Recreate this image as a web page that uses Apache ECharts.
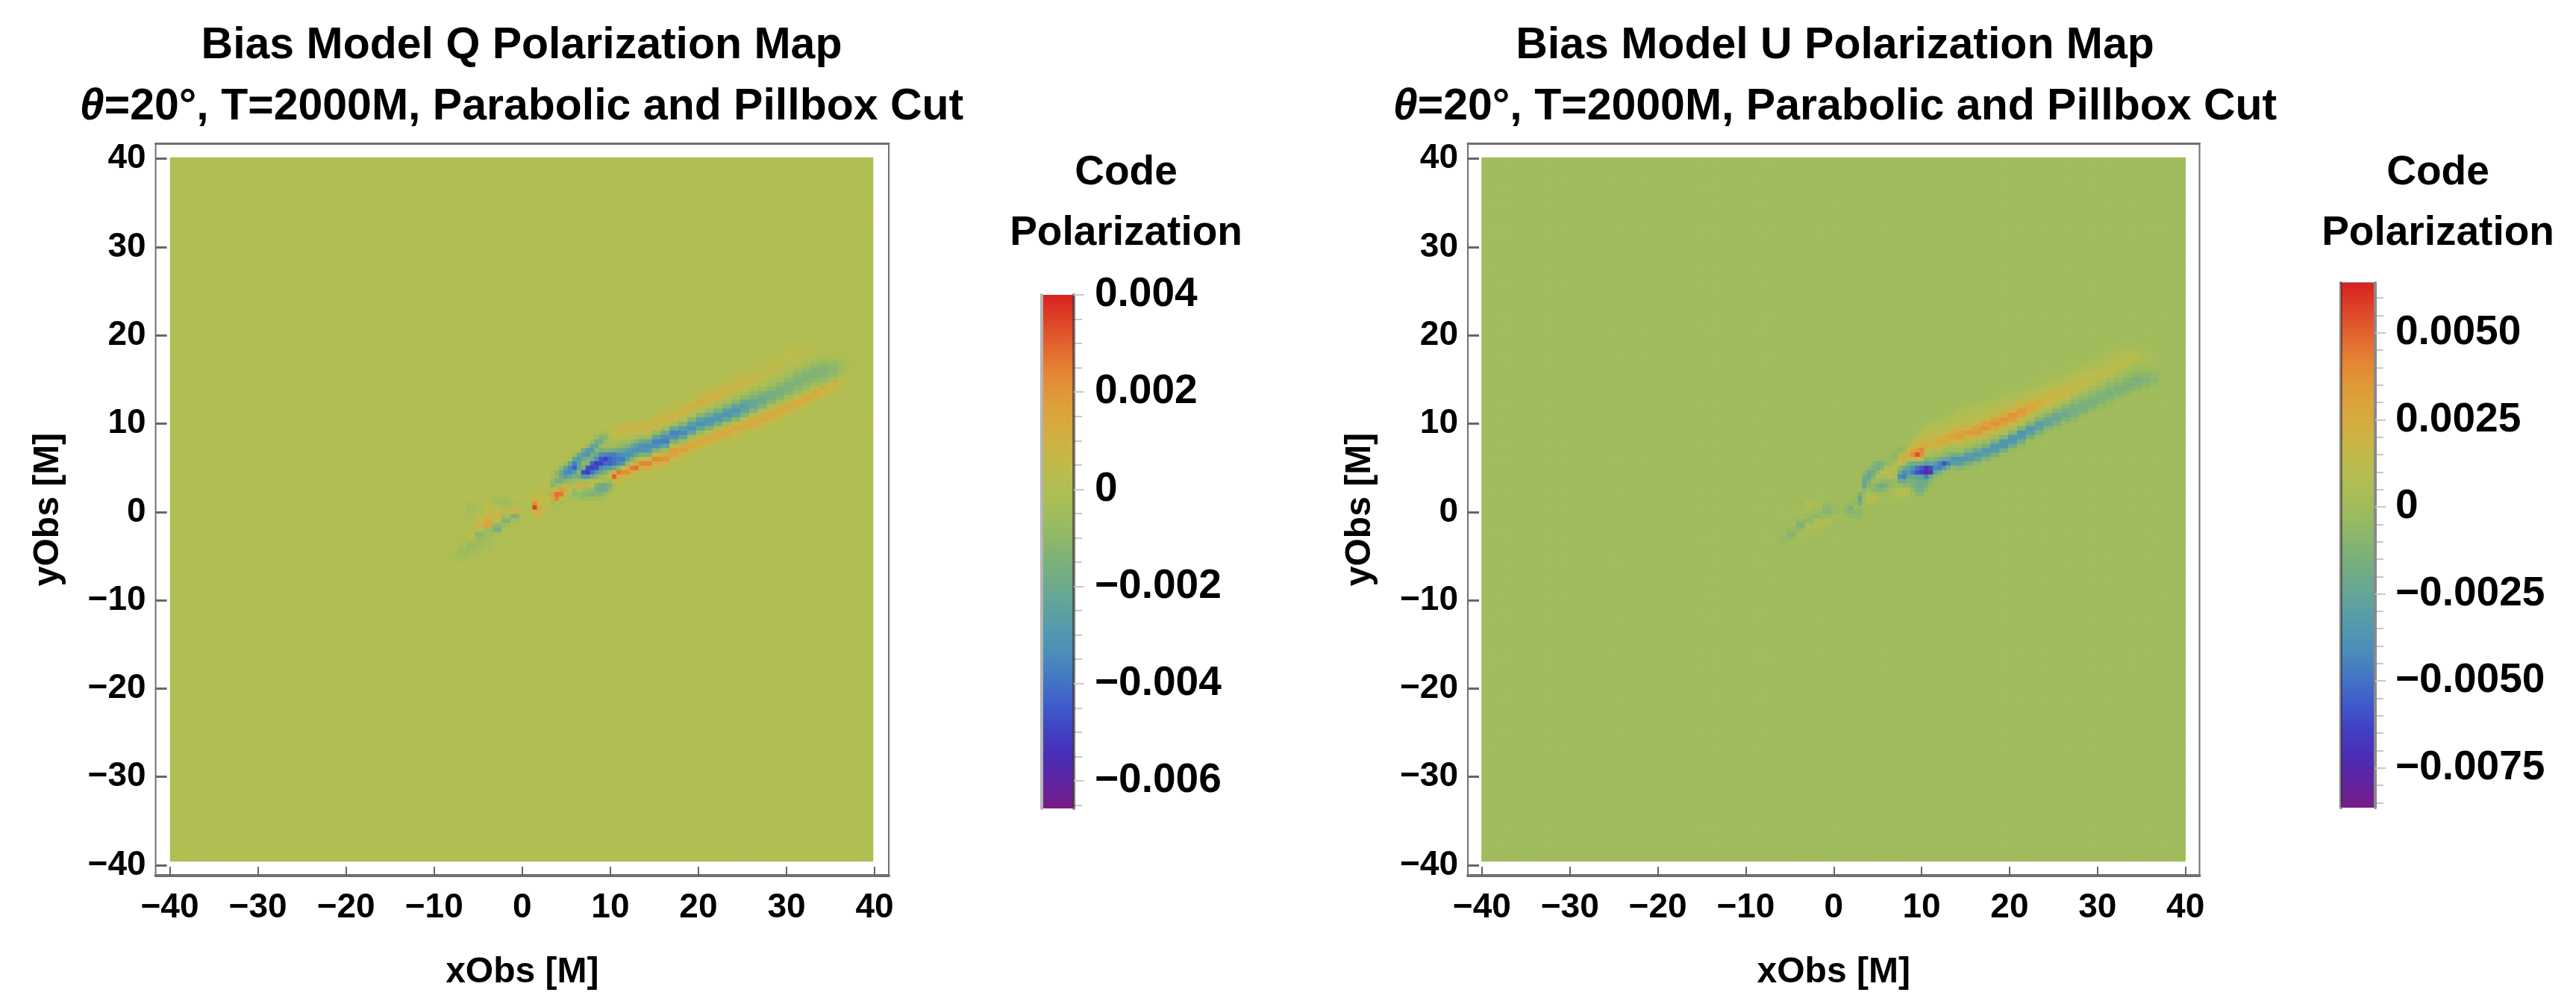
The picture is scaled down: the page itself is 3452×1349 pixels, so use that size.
<!DOCTYPE html>
<html><head><meta charset="utf-8">
<style>html,body{margin:0;padding:0;background:#fff}#c{width:3452px;height:1349px}</style>
<script src="https://cdn.jsdelivr.net/npm/echarts@6/dist/echarts.min.js"></script>
</head><body><div id="c"></div>
<script>
const axisTicks=[-40,-30,-20,-10,0,10,20,30,40];
const qBarTicks=[0.004,0.002,0,-0.002,-0.004,-0.006];
const qBarMinor=[0.0035,0.003,0.0025,0.0015,0.001,0.0005,-0.0005,-0.001,-0.0015,-0.0025,-0.003,-0.0035,-0.0045,-0.005,-0.0055,-0.0065];
const uBarTicks=[0.005,0.0025,0,-0.0025,-0.005,-0.0075];
const uBarMinor=[0.006,0.0055,0.0045,0.004,0.0035,0.003,0.002,0.0015,0.001,0.0005,-0.0005,-0.001,-0.0015,-0.002,-0.003,-0.0035,-0.004,-0.0045,-0.0055,-0.006,-0.0065,-0.007,-0.008,-0.0085];
const qRange=[-0.00657,0.004];
const uRange=[-0.00864,0.00643];
const rainbow=['#781C86','#5F24A0','#4A2DB6','#4140C4','#3F5CCA','#4475C4','#4B8DBA','#549AAD','#62A49A','#72AC85','#84B372','#98BB61','#A9BE56','#B9BD4E','#CBB444','#D7A93E','#DF9A38','#E48534','#E2652E','#DE4428','#DA2120'];
// columns of cell values, unit 1e-4: [x, y of first cell, values going down in 0.5 steps]
const qCoarse=[
[-8,-4.5,[-1,-3,-2]],
[-7,-3,[-2,-2,-3,-6,-5,-3]],
[-6,1,[-3,-4,-3,-2,-1,0,2,3,2,-5,-8,-5,-3]],
[-5,1,[-1,-2,-1,2,5,8,2,-10,-8,-5,-5,-3]],
[-4,1.5,[1,2,3,4,8,14,16,-6,-5,-4,-3,-2]],
[-3,1.5,[-2,-4,2,6,8,3,-10,-16,-3,-2]],
[-2,1.5,[-3,-5,-3,5,-4,-14,-6,-2]],
[-1,1,[-2,3,7,-14,-4,-1]],
[14,11,[1,3,6,8,4,-6,-22,-33,-30,-14,5,24,12,3,1]],
[15,11.5,[1,3,6,8,4,-8,-24,-36,-32,-14,6,22,13,4,1]],
[16,12,[1,3,6,8,5,-6,-20,-33,-37,-24,-5,14,20,10,3,1]],
[17,12.5,[1,3,6,9,6,-4,-20,-36,-32,-14,4,17,16,7,2]],
[18,13,[1,2,5,9,7,-1,-12,-28,-35,-24,-6,10,16,9,3,1]],
[19,13.5,[1,2,5,10,7,-1,-12,-27,-33,-24,-6,10,14,9,3,1]],
[20,14,[1,3,6,11,7,-1,-12,-26,-32,-24,-7,8,14,9,3,1]],
[21,14.5,[1,3,6,10,7,0,-8,-20,-31,-28,-13,3,13,10,4,1]],
[22,15,[1,2,5,9,8,1,-6,-16,-29,-29,-17,-1,13,12,5,2,1]],
[23,15.5,[1,2,5,8,8,2,-5,-14,-27,-31,-22,-6,11,14,7,2,1]],
[24,16,[1,2,4,7,8,3,-3,-12,-25,-30,-25,-10,7,14,9,3,1]],
[25,16.5,[1,2,4,6,7,3,-3,-10,-21,-27,-24,-12,3,13,11,4,1]],
[26,17,[1,2,3,5,6,3,-2,-8,-16,-22,-21,-13,0,11,14,6,2,1]],
[27,17.5,[1,2,3,4,5,3,-1,-6,-13,-19,-19,-13,-2,10,14,7,2,1]],
[28,18,[1,2,3,4,5,3,-1,-5,-11,-17,-17,-12,-2,9,14,8,3,1]],
[29,18.5,[1,2,3,4,4,2,-1,-5,-11,-16,-16,-12,-3,7,13,9,3,1]],
[30,19,[1,2,3,3,3,2,-1,-5,-10,-15,-15,-12,-4,6,13,10,4,1]],
[31,19,[2,3,3,3,1,-2,-6,-11,-14,-14,-11,-5,5,13,10,4,1]],
[32,19.5,[1,2,3,3,1,-2,-6,-11,-13,-13,-10,-5,4,13,10,4,1]],
[33,19.5,[1,2,2,1,-2,-6,-10,-13,-13,-10,-5,3,13,9,3,1]],
[34,19,[1,1,0,-3,-8,-12,-14,-12,-8,-2,11,8,3,1]],
[35,18,[0,-2,-7,-10,-11,-8,-3,9,7,3,1]],
[36,18,[-1,-2,-4,-5,-4,-2,5,3,1]],
[37,17.5,[-1,-1,-2,-1,2,2,1]]
];
const qFine=[
[1.5,2,[3,8,22,35,10,4]],
[2,2,[6,8,10,12,10,6]],
[2.5,3,[2,3,3,5,4,3,4,2]],
[3,3.5,[3,2,3,-4,3,4,4,2]],
[3.5,4,[-4,-8,-12,4,16,12,-6,3]],
[4,4.5,[-10,-8,-18,-6,10,28,24,2,-3]],
[4.5,5,[-10,-22,-20,-16,-4,18,26,8,-4,0]],
[5,5.5,[-8,-26,-34,-28,-10,0,14,6,3,-2]],
[5.5,6,[-4,-22,-36,-36,-22,-8,-2,3,-3,-6,0]],
[6,6.5,[-6,-24,-38,-44,-26,-16,-6,2,-5,-10,-3]],
[6.5,6.5,[-20,-30,-26,-24,-14,-18,-4,10,-2,-8,-4]],
[7,7,[-18,-28,-22,-10,-16,-48,-30,-4,12,-6,-10,-8]],
[7.5,7.5,[-8,-28,-32,-14,-14,-48,-52,-30,-4,4,-8,-12,-6]],
[8,8,[-6,-22,-28,-18,-18,-44,-50,-40,-20,3,2,-10,-14,-6]],
[8.5,8.5,[-6,-18,-22,-12,-22,-34,-52,-48,-30,-12,4,-14,-18,-12,-3]],
[9,9,[-3,-14,-18,-8,-16,-34,-46,-50,-34,-22,-6,2,-20,-20,-14,-3]],
[9.5,9,[-4,-12,-8,-6,-14,-36,-50,-42,-30,-14,-2,-6,-20,-18,-8]],
[10,9.5,[2,0,-3,-4,-6,-16,-38,-44,-44,-28,-6,6,-6,-14,-10,-2]],
[10.5,9.5,[4,4,3,-2,-6,-18,-38,-40,-40,-20,14,30,6,-4,-2]],
[11,10,[2,5,6,3,-3,-8,-20,-34,-38,-34,-10,26,10,6,3]],
[11.5,10,[4,7,5,2,-4,-10,-22,-32,-38,-30,2,22,10,4]],
[12,10,[5,8,6,0,-6,-14,-28,-34,-26,-8,12,22,6,1]],
[12.5,10,[6,7,3,-1,-8,-22,-30,-30,-14,4,26,12,3]],
[13,10,[4,8,4,-3,-12,-28,-32,-22,-5,14,28,8,2]],
[13.5,10.5,[2,5,8,3,-6,-20,-32,-30,-14,2,22,12,3,1]]
];
const uCoarse=[
[-7,-4,[-2,-1]],
[-6,0,[1,1,0,0,0,0,-4,-4,-2]],
[-5,-2,[-3,-10,-6]],
[-4,0,[2,2,-6,-12,-6,3,2]],
[-3,1,[6,5,2,-4,-7,2,5,3]],
[-2,1,[3,2,-4,-7,6,6,3]],
[-1,1,[-3,-8,-10,-4,8,3]],
[0,0.5,[-3,-4,1]],
[14,11.5,[4,8,10,13,19,28,31,18,6,-2,-16,-36,-30,-10,-2]],
[15,12,[3,7,9,11,14,21,33,24,10,2,-10,-30,-34,-16,-3]],
[16,12.5,[2,5,7,9,13,19,31,35,16,5,-5,-22,-35,-25,-7,-1]],
[17,12.5,[3,6,8,12,18,30,36,22,8,-3,-16,-35,-30,-12,-2]],
[18,13,[2,5,7,11,17,28,37,28,12,0,-14,-36,-34,-15,-3]],
[19,13.5,[2,4,6,10,15,26,37,30,16,3,-12,-36,-36,-18,-4]],
[20,14,[1,3,5,9,14,24,37,32,18,5,-10,-36,-36,-20,-5,-1]],
[21,14,[2,4,8,13,22,34,30,17,4,-12,-38,-34,-18,-5,-1]],
[22,14.5,[2,4,7,12,20,28,26,15,3,-12,-34,-30,-14,-3]],
[23,15,[1,3,6,11,17,24,22,13,2,-12,-30,-28,-13,-3]],
[24,15.5,[1,3,5,9,14,20,19,11,1,-11,-25,-24,-12,-3]],
[25,15.5,[2,5,8,13,19,20,12,2,-9,-22,-24,-13,-4,-1]],
[26,16,[2,4,7,12,18,18,11,2,-8,-18,-20,-13,-4,-1]],
[27,16.5,[2,4,7,11,15,16,10,2,-7,-15,-18,-13,-5,-1]],
[28,17,[2,4,6,10,14,15,9,2,-6,-13,-17,-13,-5,-1]],
[29,17.5,[2,4,6,9,13,14,8,2,-6,-12,-16,-12,-5,-1]],
[30,18,[2,3,5,8,12,14,8,2,-5,-11,-15,-12,-5,-1]],
[31,18.5,[2,3,5,8,11,13,8,2,-5,-10,-15,-12,-5,-1]],
[32,19,[1,3,5,7,11,13,8,2,-4,-10,-14,-12,-5,-1]],
[33,19,[2,4,7,10,12,7,1,-4,-10,-14,-13,-6,-1]],
[34,19,[1,3,6,9,7,1,-3,-9,-14,-13,-7,-2]],
[35,18.5,[2,4,5,3,0,-3,-9,-12,-9,-3]],
[36,18,[1,2,1,0,-2,-6,-7,-4,-1]],
[37,16,[-1,-2,-2,-1]]
];
const uFine=[
[1.5,0.5,[-8,-8,-3]],
[2,1,[-4,-14,-10,-6]],
[2.5,1.5,[-3,-6,-3,-8,-7]],
[3,2,[-14,-26,-18,-4,-8,-6]],
[3.5,4.5,[-8,-14,-22,-28,-8,-4,3,2,-1]],
[4,5,[-6,-20,-24,-18,-10,-2,4,12,6]],
[4.5,5.5,[-8,-14,-20,-12,2,-6,-8,3,11,2]],
[5,6,[-4,-16,-18,-6,3,-2,-16,-10,2,6]],
[5.5,6,[-3,-14,-8,8,4,-6,-22,-12,-1,2]],
[6,6,[-2,-6,4,12,3,-6,-14,-4,-1]],
[6.5,6.5,[-2,-4,-3,6,8,11,-5,-6,2,2]],
[7,7,[-2,-8,-6,6,10,6,2,-3,-2,3,4,2]],
[7.5,7.5,[-3,-8,6,20,14,-6,-20,-42,-20,-3,8,10,4]],
[8,7.5,[-3,-2,22,25,4,-20,-40,-46,-22,-6,10,10,4]],
[8.5,8,[2,8,18,28,10,-14,-28,-34,-26,-14,-6,6,6]],
[9,8.5,[2,8,16,28,40,12,-18,-38,-48,-24,-14,-14,-8]],
[9.5,9,[3,6,16,20,34,55,20,-20,-50,-60,-26,-18,-22,-16,-10]],
[10,9.5,[3,8,14,20,26,42,38,8,-22,-58,-64,-30,-20,-22,-18,-10]],
[10.5,10,[3,7,12,15,18,22,18,10,-10,-30,-70,-82,-46,-22,-14,-8]],
[11,10,[5,9,13,16,20,18,10,4,-8,-28,-60,-66,-22,-8,-4]],
[11.5,10,[6,9,12,16,22,18,8,0,-12,-32,-42,-28,-8,-2]],
[12,10.5,[4,7,9,12,18,24,20,8,-2,-18,-44,-46,-16,-3]],
[12.5,10.5,[6,8,10,16,24,26,14,2,-6,-24,-58,-36,-6]],
[13,11,[3,7,8,12,20,28,22,8,-2,-10,-28,-46,-18,-3]],
[13.5,11,[5,8,9,14,24,30,16,4,-4,-18,-36,-28,-6,-1]]
];
const xCats=[];for(let k=-79;k<=79;k++)xCats.push(String(k/2));
const yCats=[];for(let k=-79;k<=80;k++)yCats.push(String(k/2));

function cells(coarse,fine){
  const g=new Map();
  const put=(x,yTop,vals)=>vals.forEach((v,i)=>g.set(x+'/'+(yTop-i*0.5),v));
  coarse.forEach(c=>{put(c[0],c[1],c[2]);put(c[0]+0.5,c[1],c[2]);});
  fine.forEach(c=>put(c[0],c[1],c[2]));
  const out=[];
  xCats.forEach((xs,i)=>yCats.forEach((ys,j)=>{
    const v=g.get(Number(xs)+'/'+Number(ys));
    out.push([i,j,(v||0)*1e-4]);
  }));
  return out;
}

const FONT='Liberation Sans';
const grid=[],xAxis=[],yAxis=[],series=[],visualMap=[],title=[];
function colorAt(range,v){
  return echarts.color.lerp((v-range[0])/(range[1]-range[0]),rainbow);
}
function panel(p){
  const g0=grid.length;
  grid.push({left:p.frame[0],top:192,width:p.frame[1],height:981,show:true,borderColor:'#707070',borderWidth:2,backgroundColor:'#fff'});
  grid.push({left:p.data[0],top:211,width:p.data[1],height:943,show:true,borderWidth:0,backgroundColor:colorAt(p.range,0)});
  grid.push({left:p.bar[0],top:p.bar[1],width:p.bar[2],height:p.bar[3]});
  const lab={fontFamily:FONT,fontWeight:'bold',color:'#000'};
  const fmtAxis=v=>String(v).replace('-','\u2212');
  xAxis.push({gridIndex:g0,type:'value',min:-41.6,max:41.6,position:'bottom',splitLine:{show:false},
    axisLine:{show:true,onZero:false,lineStyle:{color:'#707070',width:4}},
    axisTick:{show:true,inside:true,length:12,customValues:axisTicks,lineStyle:{color:'#666',width:2}},
    axisLabel:{show:true,margin:20,fontSize:46,...lab,customValues:axisTicks,formatter:fmtAxis},
    name:'xObs [M]',nameLocation:'center',nameGap:p.xGap,nameTextStyle:{fontSize:48,...lab}});
  xAxis.push({gridIndex:g0,type:'value',min:-41.6,max:41.6,position:'top',splitLine:{show:false},
    axisLine:{show:true,onZero:false,lineStyle:{color:'#707070',width:3}},axisTick:{show:false},axisLabel:{show:false}});
  xAxis.push({gridIndex:g0+1,type:'category',data:xCats,show:false});
  xAxis.push({gridIndex:g0+2,type:'value',min:0,max:1,position:'top',splitLine:{show:false},axisTick:{show:false},axisLabel:{show:false},
    axisLine:{show:p.barTop,onZero:false,lineStyle:{color:'#8a8a8a',width:3}}});
  yAxis.push({gridIndex:g0,type:'value',min:-41.18,max:41.75,position:'left',splitLine:{show:false},
    axisLine:{show:false,onZero:false},
    axisTick:{show:true,inside:true,length:15,customValues:axisTicks,lineStyle:{color:'#666',width:3}},
    axisLabel:{show:true,margin:13,fontSize:46,...lab,customValues:axisTicks,formatter:fmtAxis},
    name:'yObs [M]',nameLocation:'center',nameGap:p.yGap,nameTextStyle:{fontSize:48,...lab}});
  const yc=yAxis.length;
  yAxis.push({gridIndex:g0+1,type:'category',data:yCats,show:false});
  const barMin=p.range[0],barMax=p.range[1];
  yAxis.push({gridIndex:g0+2,type:'value',min:barMin,max:barMax,position:'right',z:6,splitLine:{show:false},
    axisLine:{show:true,onZero:false,lineStyle:{color:p.edgeR,width:4}},
    axisTick:{show:true,length:14,customValues:p.ticks,lineStyle:{color:'#c8c8c8',width:2}},
    axisLabel:{show:true,margin:p.barMargin,fontSize:55,...lab,customValues:p.ticks,
      formatter:v=>v===0?'0':v.toFixed(p.dec).replace('-','\u2212')}});
  yAxis.push({gridIndex:g0+2,type:'value',min:barMin,max:barMax,position:'right',splitLine:{show:false},
    axisLine:{show:false,onZero:false},axisLabel:{show:false},
    axisTick:{show:true,length:11,customValues:p.minor,lineStyle:{color:'#c8c8c8',width:2}}});
  yAxis.push({gridIndex:g0+2,type:'value',min:barMin,max:barMax,position:'left',z:6,splitLine:{show:false},
    axisTick:{show:false},axisLabel:{show:false},
    axisLine:{show:true,onZero:false,lineStyle:{color:p.edgeL,width:4}}});
  const s=series.length;
  series.push({type:'heatmap',xAxisIndex:xAxis.length-2,yAxisIndex:yc,data:cells(p.coarse,p.fine),progressive:0,animation:false,silent:true,emphasis:{disabled:true}});
  visualMap.push({type:'continuous',seriesIndex:s,min:barMin,max:barMax,inRange:{color:rainbow},calculable:false,realtime:false,
    left:p.bar[0],top:p.bar[1],itemWidth:p.bar[2],itemHeight:p.bar[3],padding:0,text:null,showLabel:false,hoverLink:false});
  const ts=(fs)=>({fontFamily:FONT,fontWeight:'bold',fontSize:fs,color:'#000',
    rich:{t:{fontFamily:FONT,fontWeight:'bold',fontStyle:'italic',fontSize:fs,color:'#000'}}});
  title.push({text:p.t1,left:p.tc,top:32,textAlign:'center',padding:0,textStyle:ts(59)});
  title.push({text:'{t|\u03B8}=20\u00B0, T=2000M, Parabolic and Pillbox Cut',left:p.tc,top:114,textAlign:'center',padding:0,textStyle:ts(59)});
  title.push({text:'Code',left:p.lc,top:204,textAlign:'center',padding:0,textStyle:ts(55)});
  title.push({text:'Polarization',left:p.lc,top:285,textAlign:'center',padding:0,textStyle:ts(55)});
}
panel({t1:'Bias Model Q Polarization Map',tc:699,lc:1509,frame:[208.6,982.4],data:[228,942],bar:[1396,395,43,688],barTop:false,
  range:qRange,ticks:qBarTicks,minor:qBarMinor,dec:3,barMargin:28,edgeL:'#b4b4b4',edgeR:'rgba(60,50,50,0.65)',coarse:qCoarse,fine:qFine,xGap:106,yGap:120});
panel({t1:'Bias Model U Polarization Map',tc:2459,lc:3267,frame:[1967,980.5],data:[1985.6,943],bar:[3137,379,46,703],barTop:true,
  range:uRange,ticks:uBarTicks,minor:uBarMinor,dec:4,barMargin:27,edgeL:'rgba(60,50,50,0.6)',edgeR:'#8a8a8a',coarse:uCoarse,fine:uFine,xGap:106,yGap:120});

const chart=echarts.init(document.getElementById('c'),null,{renderer:'canvas'});
chart.setOption({animation:false,backgroundColor:'#fff',grid,xAxis,yAxis,series,visualMap,title,tooltip:{show:false}});
</script></body></html>
